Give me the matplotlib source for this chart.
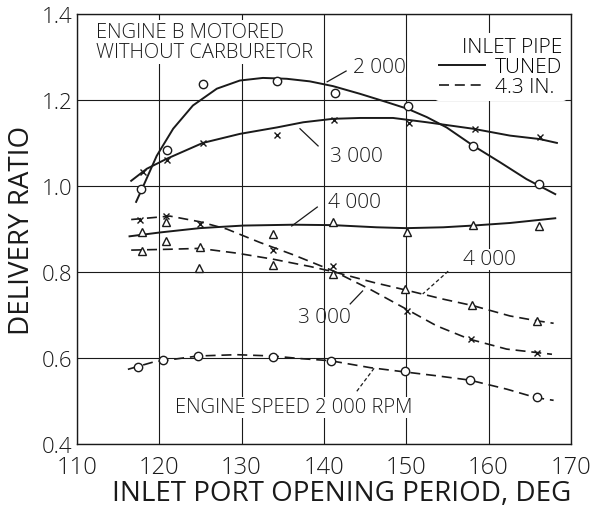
import matplotlib.pyplot as plt

plt.rcParams['font.family'] = ['Open Sans', 'DejaVu Sans']
plt.rcParams['font.weight'] = 'light'

# inlet pipe tuned: curves
t2000_cx = [117.2, 118.1, 119.7, 121.7, 124.1, 127.0, 129.8, 132.6, 135.5, 138.3, 141.1, 144.4, 147.6, 150.2, 152.5, 154.9, 158.1, 161.4, 164.6, 168.1]
t2000_cy = [0.963, 1.001, 1.070, 1.133, 1.187, 1.226, 1.245, 1.251, 1.249, 1.243, 1.232, 1.214, 1.195, 1.179, 1.160, 1.136, 1.094, 1.055, 1.016, 0.981]
t2000_px = [117.8, 120.9, 125.3, 134.3, 141.3, 150.2, 158.1, 166.1]
t2000_py = [0.993, 1.084, 1.237, 1.244, 1.216, 1.186, 1.093, 1.005]

t3000_cx = [116.6, 118.5, 120.9, 125.3, 129.8, 134.3, 137.5, 141.1, 144.4, 148.4, 152.5, 158.1, 162.6, 166.2, 168.3]
t3000_cy = [1.012, 1.040, 1.063, 1.100, 1.121, 1.136, 1.148, 1.156, 1.158, 1.158, 1.148, 1.133, 1.117, 1.109, 1.100]
t3000_px = [118.0, 120.9, 125.3, 134.3, 141.2, 150.3, 158.4, 166.3]
t3000_py = [1.033, 1.060, 1.100, 1.119, 1.154, 1.146, 1.133, 1.113]

t4000_cx = [116.4, 120.1, 124.9, 130.2, 136.3, 141.1, 146.4, 150.0, 154.5, 158.1, 162.6, 168.1]
t4000_cy = [0.883, 0.892, 0.902, 0.908, 0.910, 0.909, 0.904, 0.902, 0.904, 0.908, 0.914, 0.925]
t4000_px = [117.9, 120.8, 133.8, 141.1, 150.1, 158.1, 166.1]
t4000_py = [0.893, 0.916, 0.888, 0.916, 0.893, 0.909, 0.907]

# inlet pipe 4.3 in.
d2000_cx = [116.2, 119.3, 124.7, 129.4, 133.8, 137.1, 140.8, 145.6, 149.8, 153.7, 157.7, 162.2, 165.8, 167.9]
d2000_cy = [0.574, 0.591, 0.605, 0.608, 0.605, 0.599, 0.594, 0.578, 0.568, 0.559, 0.549, 0.528, 0.508, 0.502]
d2000_px = [117.4, 120.5, 124.7, 133.8, 140.9, 149.9, 157.8, 165.9]
d2000_py = [0.579, 0.595, 0.605, 0.602, 0.593, 0.570, 0.549, 0.509]

d3000_cx = [116.6, 121.3, 124.9, 128.2, 132.2, 136.3, 141.1, 145.6, 150.0, 153.7, 157.7, 162.2, 167.7]
d3000_cy = [0.922, 0.930, 0.917, 0.900, 0.869, 0.840, 0.803, 0.760, 0.714, 0.675, 0.644, 0.621, 0.609]
d3000_px = [117.7, 120.8, 124.9, 133.8, 141.1, 150.1, 157.9, 165.9]
d3000_py = [0.921, 0.930, 0.912, 0.851, 0.814, 0.709, 0.644, 0.612]

d4000_cx = [116.6, 121.3, 124.9, 129.4, 133.8, 138.3, 141.1, 146.0, 150.0, 154.5, 158.1, 162.6, 165.8, 167.9]
d4000_cy = [0.851, 0.853, 0.855, 0.844, 0.830, 0.813, 0.801, 0.776, 0.758, 0.737, 0.722, 0.698, 0.687, 0.681]
d4000_px = [117.9, 120.8, 124.9, 124.8, 133.8, 141.1, 149.9, 158.0, 165.9]
d4000_py = [0.849, 0.872, 0.858, 0.809, 0.816, 0.795, 0.760, 0.723, 0.686]

xticks = [110, 120, 130, 140, 150, 160, 170]
yticks = [0.4, 0.6, 0.8, 1.0, 1.2, 1.4]
ytick_labels = ['0.4', '0.6', '0.8', '1.0', '1.2', '1.4']

ink = '#1a1a1a'
dash = (0, (6, 3.5))

fig = plt.figure(figsize=(5.91, 5.10), dpi=100)
ax = fig.add_axes([0.130, 0.127, 0.836, 0.844])

ax.plot(t2000_cx, t2000_cy, color=ink, lw=1.4, label='TUNED')
ax.plot(t3000_cx, t3000_cy, color=ink, lw=1.4)
ax.plot(t4000_cx, t4000_cy, color=ink, lw=1.4)
ax.plot(d2000_cx, d2000_cy, color=ink, lw=1.2, linestyle=dash, label='4.3 IN.')
ax.plot(d3000_cx, d3000_cy, color=ink, lw=1.2, linestyle=dash)
ax.plot(d4000_cx, d4000_cy, color=ink, lw=1.2, linestyle=dash)

for px, py in [(t2000_px, t2000_py), (d2000_px, d2000_py)]:
    ax.plot(px, py, 'o', ms=6, mfc='white', mec=ink, mew=1.0, ls='none')
for px, py in [(t3000_px, t3000_py), (d3000_px, d3000_py)]:
    ax.plot(px, py, 'x', ms=5, color=ink, mew=1.0, ls='none')
for px, py in [(t4000_px, t4000_py), (d4000_px, d4000_py)]:
    ax.plot(px, py, '^', ms=6, mfc='white', mec=ink, mew=1.0, ls='none')

ax.set_xlim(110, 170)
ax.set_ylim(0.4, 1.4)
ax.set_xticks(xticks)
ax.set_yticks(yticks)
ax.set_yticklabels(ytick_labels)
ax.grid(True, color=ink, lw=0.8)
ax.set_axisbelow(True)
ax.tick_params(length=0, colors=ink)
ax.tick_params(axis='x', pad=8, labelsize=17)
ax.tick_params(axis='y', pad=3, labelsize=16)
for s in ax.spines.values():
    s.set_color(ink)
    s.set_linewidth(1.0)

ax.set_xlabel('INLET PORT OPENING PERIOD, DEG', fontsize=20, color=ink, labelpad=0, x=0.535)
ax.set_ylabel('DELIVERY RATIO', fontsize=20, color=ink, labelpad=4)

ax.text(112.3, 1.382, 'ENGINE B MOTORED\nWITHOUT CARBURETOR', va='top', ha='left', linespacing=1.05,
        fontsize=14.5, color=ink, bbox=dict(facecolor='white', edgecolor='none', pad=1))

lab = dict(ha='center', va='center', fontsize=15, color=ink)
wb = dict(facecolor='white', edgecolor='none', pad=0.5)
ax.text(146.7, 1.277, '2 000', bbox=wb, **lab)
ax.plot([142.7, 140.4], [1.267, 1.242], color=ink, lw=0.9)
ax.text(144.0, 1.070, '3 000', **lab)
ax.plot([139.3, 137.1], [1.093, 1.133], color=ink, lw=0.9)
ax.text(143.7, 0.963, '4 000', bbox=wb, **lab)
ax.plot([139.2, 136.1], [0.951, 0.907], color=ink, lw=0.9)
ax.text(160.1, 0.830, '4 000', bbox=wb, **lab)
ax.plot([155.1, 152.0], [0.802, 0.749], color=ink, lw=0.9, ls=(0, (3, 2)))
ax.text(140.1, 0.695, '3 000', **lab)
ax.plot([143.2, 144.7], [0.726, 0.756], color=ink, lw=0.9)
ax.text(121.9, 0.486, 'ENGINE SPEED 2 000 RPM', ha='left', va='center', fontsize=14.5, color=ink, bbox=wb)
ax.plot([144.0, 146.2], [0.523, 0.579], color=ink, lw=0.9, ls=(0, (3, 2)))

leg = ax.legend(title='INLET PIPE', loc='upper right', bbox_to_anchor=(1.0, 0.965), frameon=True,
                fontsize=15, title_fontsize=15, handlelength=2.2, handletextpad=0.5, borderpad=0.2,
                labelspacing=0.0, borderaxespad=0.2, alignment='right')
leg.get_frame().set_facecolor('white')
leg.get_frame().set_edgecolor('none')
leg.get_frame().set_alpha(1)

fig.savefig('out.png', dpi=100)
